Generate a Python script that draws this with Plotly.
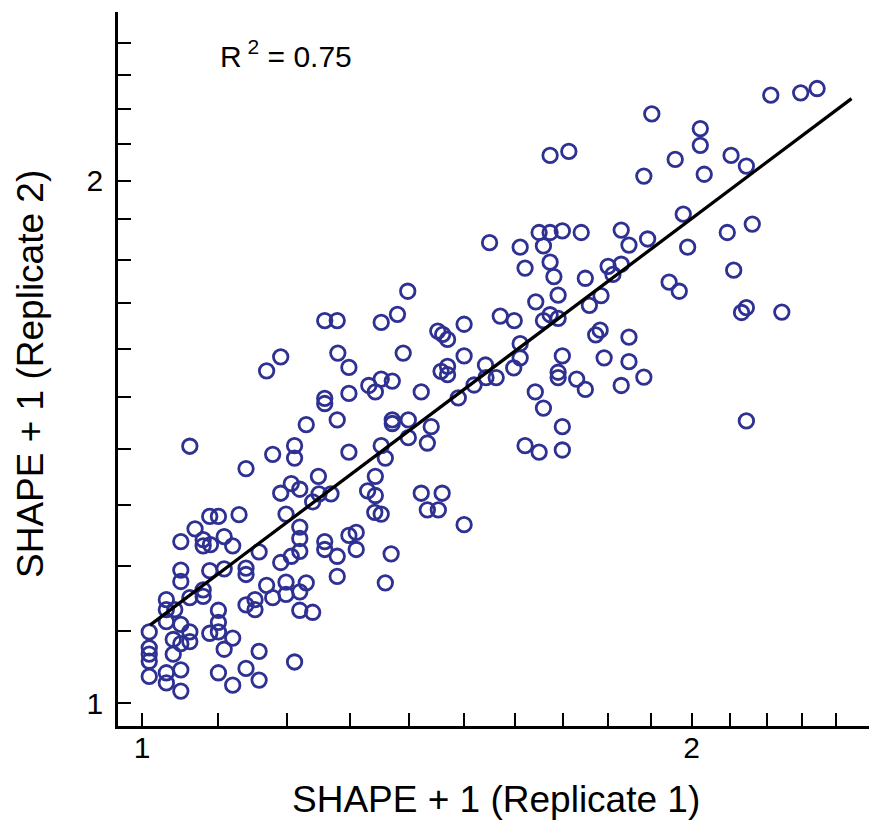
import plotly.graph_objects as go
import math

# SHAPE + 1 values (Replicate 1 on x, Replicate 2 on y)
rep1 = [
    1.009, 1.009, 1.009, 1.009, 1.009, 1.031, 1.031, 1.042, 1.031, 1.050,
    1.062, 1.040, 1.050, 1.062, 1.040, 1.031, 1.031, 1.050, 1.050, 1.050,
    1.050, 1.050, 1.062, 1.069, 1.080, 1.080, 1.090, 1.089, 1.101, 1.109,
    1.121, 1.130, 1.140, 1.089, 1.080, 1.080, 1.062, 1.109, 1.101, 1.101,
    1.101, 1.089, 1.121, 1.109, 1.101, 1.121, 1.140, 1.159, 1.159, 1.140,
    1.140, 1.140, 1.153, 1.153, 1.170, 1.179, 1.159, 1.191, 1.199, 1.199,
    1.179, 1.191, 1.199, 1.170, 1.191,
    1.212, 1.212, 1.207, 1.220, 1.249, 1.240, 1.250, 1.269, 1.230, 1.279,
    1.259, 1.259, 1.298, 1.298, 1.298, 1.331, 1.342, 1.352, 1.371, 1.352,
    1.359, 1.371, 1.371, 1.399, 1.399, 1.440, 1.433, 1.422, 1.458, 1.470,
    1.470, 1.490, 1.520, 1.342, 1.329, 1.342, 1.341, 1.352, 1.422, 1.460,
    1.433, 1.453, 1.501, 1.220, 1.220, 1.220, 1.207, 1.259, 1.259, 1.279,
    1.298, 1.310, 1.310, 1.369, 1.279, 1.359, 1.230, 1.220, 1.220, 1.240,
    1.212, 1.398, 1.259, 1.279, 1.352, 1.380, 1.452, 1.461, 1.470, 1.501,
    1.280, 1.390, 1.501,
    1.902, 1.673, 1.713, 1.883, 1.550, 1.611, 1.650, 1.673, 1.699, 1.659,
    1.740, 1.830, 1.848, 1.892, 1.621, 1.673, 1.681, 1.749, 1.800, 1.811,
    1.830, 1.643, 1.690, 1.758, 1.784, 1.571, 1.599, 1.659, 1.673, 1.690,
    1.782, 1.772, 1.848, 1.611, 1.611, 1.699, 1.791, 1.848, 1.542, 1.598,
    1.690, 1.690, 1.730, 1.749, 1.830, 1.883, 1.642, 1.659, 1.699, 1.621,
    1.650, 1.699, 1.543, 1.563, 1.944,
    2.210, 2.295, 2.343, 2.022, 2.022, 1.959, 2.102, 2.143, 2.032, 1.979,
    2.092, 2.159, 1.990, 2.109, 1.969, 2.143, 2.130, 2.241, 2.143,
]
rep2 = [
    1.099, 1.076, 1.067, 1.057, 1.036, 1.147, 1.132, 1.132, 1.114, 1.110,
    1.099, 1.088, 1.082, 1.085, 1.067, 1.041, 1.027, 1.045, 1.016, 1.239,
    1.193, 1.175, 1.406, 1.260, 1.242, 1.232, 1.234, 1.281, 1.281, 1.247,
    1.232, 1.284, 1.365, 1.192, 1.162, 1.152, 1.150, 1.195, 1.131, 1.113,
    1.099, 1.097, 1.090, 1.074, 1.041, 1.024, 1.047, 1.031, 1.071, 1.196,
    1.186, 1.139, 1.147, 1.132, 1.169, 1.150, 1.222, 1.205, 1.174, 1.155,
    1.391, 1.321, 1.285, 1.554, 1.583,
    1.407, 1.384, 1.338, 1.328, 1.351, 1.306, 1.320, 1.320, 1.447, 1.456,
    1.498, 1.488, 1.508, 1.561, 1.395, 1.524, 1.511, 1.537, 1.533, 1.407,
    1.384, 1.456, 1.449, 1.456, 1.422, 1.443, 1.412, 1.511, 1.553, 1.546,
    1.563, 1.499, 1.525, 1.351, 1.325, 1.317, 1.288, 1.285, 1.321, 1.321,
    1.292, 1.292, 1.267, 1.263, 1.244, 1.223, 1.215, 1.239, 1.226, 1.215,
    1.249, 1.254, 1.226, 1.219, 1.183, 1.173, 1.173, 1.159, 1.131, 1.128,
    1.056, 1.727, 1.661, 1.661, 1.657, 1.675, 1.638, 1.631, 1.620, 1.653,
    1.591, 1.591, 1.585,
    2.185, 2.068, 2.079, 2.012, 1.842, 1.831, 1.867, 1.867, 1.871, 1.834,
    1.867, 1.873, 1.836, 1.851, 1.781, 1.795, 1.761, 1.757, 1.785, 1.766,
    1.790, 1.703, 1.718, 1.695, 1.717, 1.671, 1.661, 1.661, 1.674, 1.666,
    1.640, 1.630, 1.625, 1.611, 1.581, 1.585, 1.581, 1.573, 1.566, 1.560,
    1.551, 1.540, 1.537, 1.516, 1.524, 1.541, 1.511, 1.479, 1.443, 1.407,
    1.395, 1.399, 1.540, 1.540, 1.748,
    2.240, 2.247, 2.260, 2.143, 2.096, 2.057, 2.068, 2.039, 2.017, 1.913,
    1.867, 1.888, 1.831, 1.776, 1.727, 1.690, 1.679, 1.680, 1.454,
]

# Regression line end points (data units)
fit_x = [1.010, 2.447]
fit_y = [1.109, 2.230]

r2_label = "R<sup> 2</sup> = 0.75"
x_title = "SHAPE + 1 (Replicate 1)"
y_title = "SHAPE + 1 (Replicate 2)"

major_vals = [1, 2]
major_text = ["1", "2"]
minor_vals = [round(1.0 + 0.1 * i, 1) for i in range(16)]

FONT = "Arial, Liberation Sans, Helvetica, sans-serif"
BLUE = "#2E3192"

fig = go.Figure()
fig.add_trace(go.Scatter(
    x=rep1, y=rep2, mode="markers",
    marker=dict(symbol="circle-open", size=14.5, color=BLUE, line=dict(width=2.8, color=BLUE)),
    showlegend=False, hoverinfo="x+y",
))
fig.add_trace(go.Scatter(
    x=fit_x, y=fit_y, mode="lines",
    line=dict(color="black", width=3.3),
    showlegend=False, hoverinfo="skip",
))

rng = [math.log10(0.97), math.log10(2.5015)]
axis_common = dict(
    type="log", range=rng, tickmode="array", tickvals=major_vals, ticktext=major_text,
    ticks="inside", ticklen=13, tickwidth=2.2, tickcolor="black",
    minor=dict(tickmode="array", tickvals=minor_vals, ticks="inside", ticklen=13,
               tickwidth=2.2, tickcolor="black", showgrid=False),
    showline=True, linecolor="black", linewidth=2.6,
    showgrid=False, zeroline=False,
    tickfont=dict(family=FONT, size=30, color="black"),
)
fig.update_xaxes(**axis_common, ticklabelstandoff=-7)
fig.update_yaxes(**axis_common, ticklabelstandoff=6)

fig.update_layout(
    width=870, height=823,
    margin=dict(l=118, r=1, t=12, b=97, autoexpand=False),
    paper_bgcolor="white", plot_bgcolor="white",
    font=dict(family=FONT, color="black"),
    annotations=[
        dict(text=r2_label, xref="paper", yref="paper", x=(218 - 118) / 751, y=(726 - 54) / 714,
             xanchor="left", yanchor="middle", showarrow=False, font=dict(size=30, family=FONT)),
        dict(text=x_title, xref="paper", yref="paper", x=(496 - 118) / 751, y=(726 - 799) / 714,
             xanchor="center", yanchor="middle", showarrow=False, font=dict(size=37, family=FONT)),
        dict(text=y_title, xref="paper", yref="paper", x=(30 - 118) / 751, y=(726 - 374) / 714,
             xanchor="center", yanchor="middle", textangle=-90, showarrow=False,
             font=dict(size=37, family=FONT)),
    ],
)

fig.write_html("out.html", config={"displayModeBar": False},
               post_script="document.body.style.margin='0';")
